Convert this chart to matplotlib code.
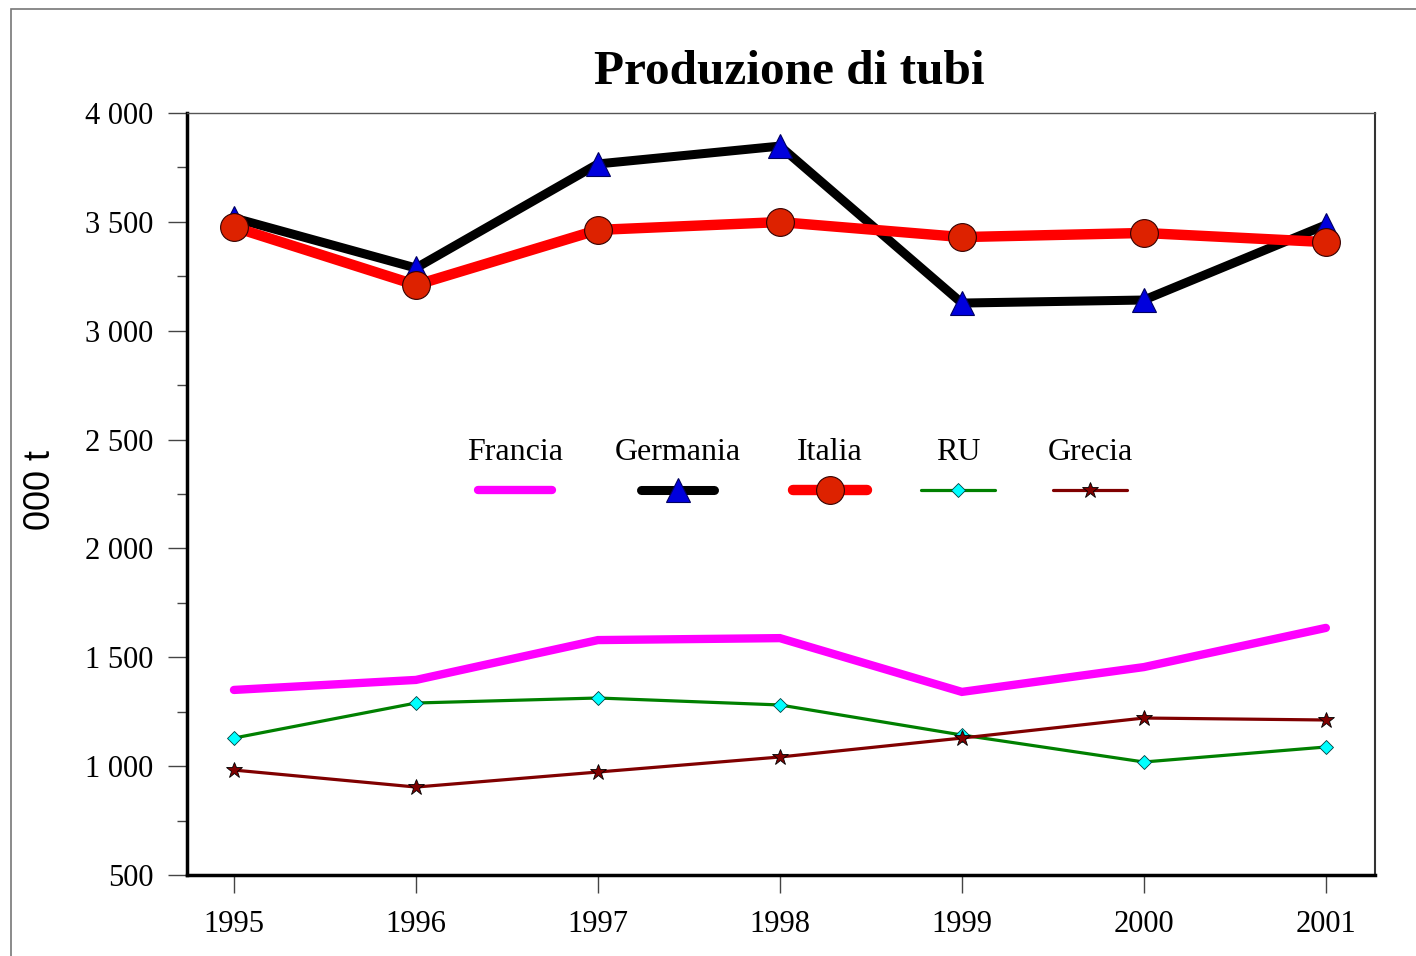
import numpy as np
import matplotlib.pyplot as plt
from matplotlib.ticker import FuncFormatter, MultipleLocator
from matplotlib.patches import Rectangle

# Dati (000 t)
anni = [1995, 1996, 1997, 1998, 1999, 2000, 2001]
francia = [1350, 1396, 1579, 1588, 1341, 1455, 1635]
germania = [3518, 3288, 3766, 3848, 3127, 3141, 3486]
italia = [3476, 3210, 3463, 3499, 3430, 3449, 3407]
ru = [1129, 1290, 1313, 1281, 1143, 1019, 1088]
grecia = [982, 904, 973, 1042, 1129, 1221, 1212]

serif = ['Liberation Serif', 'DejaVu Serif']

fig = plt.figure(figsize=(14.16, 9.56), dpi=100)
# cornice esterna
fig.patches.append(Rectangle((11 / 1416, -0.1), 1.2, 1.1 - 9 / 956, transform=fig.transFigure,
                             fill=False, edgecolor='#777777', linewidth=1.2))

ax = fig.add_axes([187 / 1416, 1 - 875 / 956, 1188 / 1416, 762 / 956])

serie = [
    ('Francia', francia, dict(color='#FF00FF', lw=6, marker=None)),
    ('Germania', germania, dict(color='black', lw=6.5, marker='^', ms=17, mfc='#0000DD', mec='#000060', mew=0.8)),
    ('Italia', italia, dict(color='#FF0000', lw=7.5, marker='o', ms=20, mfc='#DD2200', mec='#330000', mew=0.8)),
    ('RU', ru, dict(color='#008000', lw=2.3, marker='D', ms=7, mfc='#00FFFF', mec='#004040', mew=0.6)),
    ('Grecia', grecia, dict(color='#800000', lw=2.3, marker='*', ms=12, mfc='#800000', mec='black', mew=0.6)),
]

for nome, valori, stile in serie:
    ax.plot(anni, valori, solid_capstyle='round', solid_joinstyle='miter', zorder=3, **stile)

# legenda manuale: etichetta sopra, linea sotto
leg_x = [0.276, 0.413, 0.541, 0.649, 0.760]
for (nome, valori, stile), xc in zip(serie, leg_x):
    ax.plot([xc - 0.031, xc + 0.031], [0.505, 0.505], transform=ax.transAxes,
            color=stile['color'], lw=stile['lw'], solid_capstyle='round', zorder=4)
    if stile.get('marker'):
        ax.plot([xc], [0.505], transform=ax.transAxes, linestyle='none', zorder=5,
                marker=stile['marker'], ms=stile['ms'], mfc=stile['mfc'],
                mec=stile['mec'], mew=stile['mew'])
    ax.text(xc, 0.555, nome, transform=ax.transAxes, ha='center', va='center',
            fontsize=23, family=serif)

ax.set_xlim(1994.742, 2001.27)
ax.set_ylim(500, 4000)
ax.set_xticks(anni)
ax.yaxis.set_major_locator(MultipleLocator(500))
ax.yaxis.set_minor_locator(MultipleLocator(250))
ax.yaxis.set_major_formatter(FuncFormatter(lambda v, p: f'{int(v):,}'.replace(',', ' ')))

ax.tick_params(axis='y', which='major', direction='out', length=14, width=1, color='#444444',
               pad=10, labelsize=22)
ax.tick_params(axis='y', which='minor', direction='out', length=7, width=1, color='#444444')
ax.tick_params(axis='x', which='major', direction='out', length=13, width=1, color='#444444',
               pad=12, labelsize=22)
for lab in ax.get_xticklabels() + ax.get_yticklabels():
    lab.set_family(serif)

ax.spines['left'].set_linewidth(2.5)
ax.spines['bottom'].set_linewidth(2.5)
ax.spines['top'].set_linewidth(1)
ax.spines['top'].set_color('#555555')
ax.spines['right'].set_linewidth(1.5)
ax.spines['right'].set_color('#333333')

fig.text(789 / 1416, 1 - 72 / 956, 'Produzione di tubi', ha='center', va='center',
         fontsize=35.5, fontweight='bold', family=serif)
fig.text(40 / 1416, 1 - 490 / 956, '000 t', ha='center', va='center', rotation=90,
         fontsize=26, family=['Liberation Sans', 'DejaVu Sans'])

plt.savefig('out.png', dpi=100)
plt.close()
